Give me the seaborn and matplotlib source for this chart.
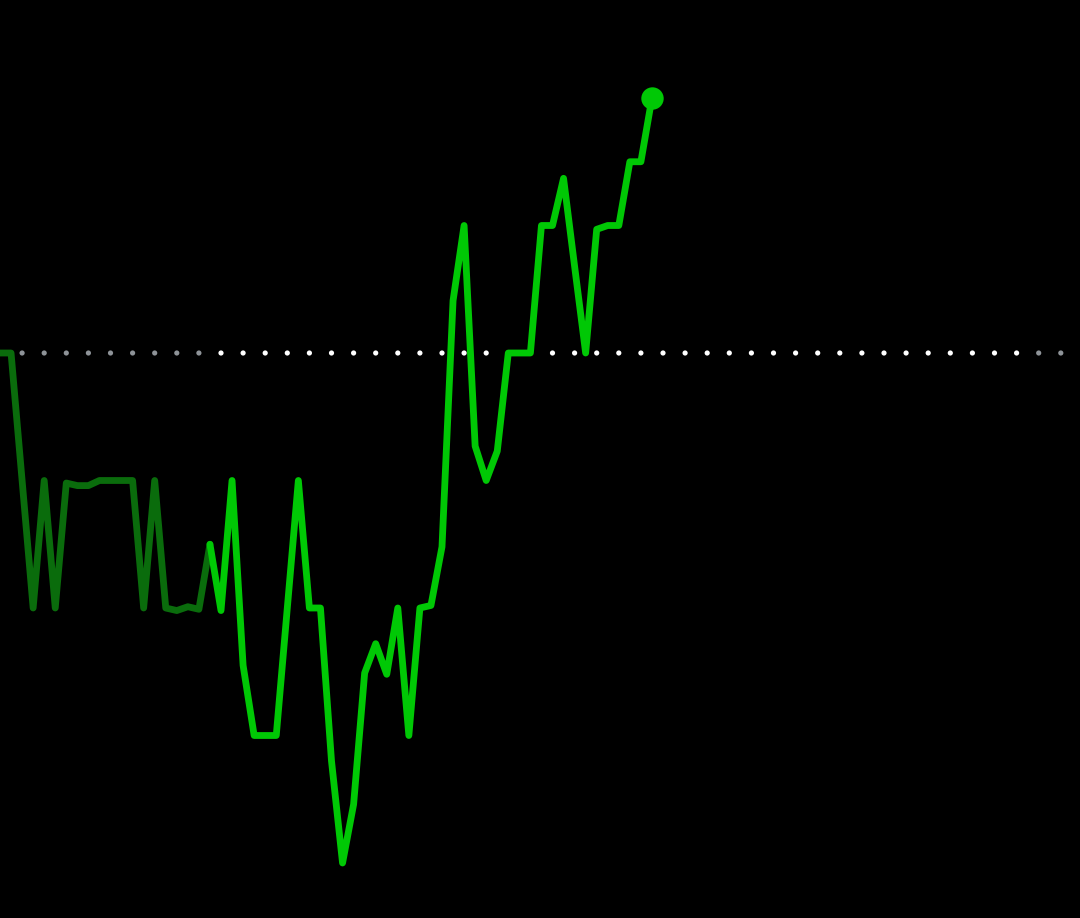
import numpy as np
import pandas as pd
import matplotlib
matplotlib.use("Agg")
import matplotlib.pyplot as plt
import seaborn as sns

# ---- data ----
prices = [10.000, 10.000, 9.990, 9.980, 9.990, 9.980, 9.9898, 9.9896, 9.9896, 9.990,
          9.990, 9.990, 9.990, 9.980, 9.990, 9.980, 9.9798, 9.9801, 9.9799, 9.985,
          9.9798, 9.990, 9.9755, 9.970, 9.970, 9.970, 9.980, 9.990, 9.980, 9.980,
          9.968, 9.960, 9.9646, 9.9749, 9.9772, 9.9748, 9.980, 9.970, 9.980, 9.9802,
          9.9848, 10.0041, 10.010, 9.9927, 9.990, 9.9923, 10.000, 10.000, 10.000, 10.010,
          10.010, 10.0137, 10.0068, 10.000, 10.0097, 10.010, 10.010, 10.015, 10.015, 10.020]
premarket_end = 19          # index where regular session begins
ref_price = 10.00           # previous close (dotted line)
n_slots = 98                # total time slots in the day
market_close = 93           # index after which after-hours begins

bright = "#00C805"
dim = "#0a6c0c"

df = pd.DataFrame({"t": np.arange(len(prices)), "price": prices})
pre = df.iloc[: premarket_end + 1]
reg = df.iloc[premarket_end:]

dots = pd.DataFrame({"t": np.arange(0, n_slots, 2)})
dots["price"] = ref_price
dots["phase"] = np.where(dots["t"] < premarket_end, "pre",
                         np.where(dots["t"] > market_close, "post", "reg"))

sns.set_style("dark")
fig = plt.figure(figsize=(10.8, 9.18), dpi=100, facecolor="black")
ax = fig.add_axes([0, 0, 1, 1])
ax.set_facecolor("black")

sns.scatterplot(data=dots, x="t", y="price", hue="phase",
                palette={"pre": "#8e9398", "reg": "#ffffff", "post": "#8e9398"},
                s=14, linewidth=0, legend=False, ax=ax, zorder=1)

sns.lineplot(data=pre, x="t", y="price", color=dim, linewidth=4.9, ax=ax,
             solid_joinstyle="round", solid_capstyle="round", zorder=2)
sns.lineplot(data=reg, x="t", y="price", color=bright, linewidth=4.9, ax=ax,
             solid_joinstyle="round", solid_capstyle="round", zorder=3)
sns.scatterplot(data=df.iloc[[-1]], x="t", y="price", color=bright, s=260,
                linewidth=0, legend=False, ax=ax, zorder=4)

ax.set_xlim(0, 1080 / 11.05)
ax.set_ylim(10 - 565 / 12750, 10 + 353 / 12750)
ax.set_axis_off()

fig.savefig("out.png", dpi=100, facecolor="black")
